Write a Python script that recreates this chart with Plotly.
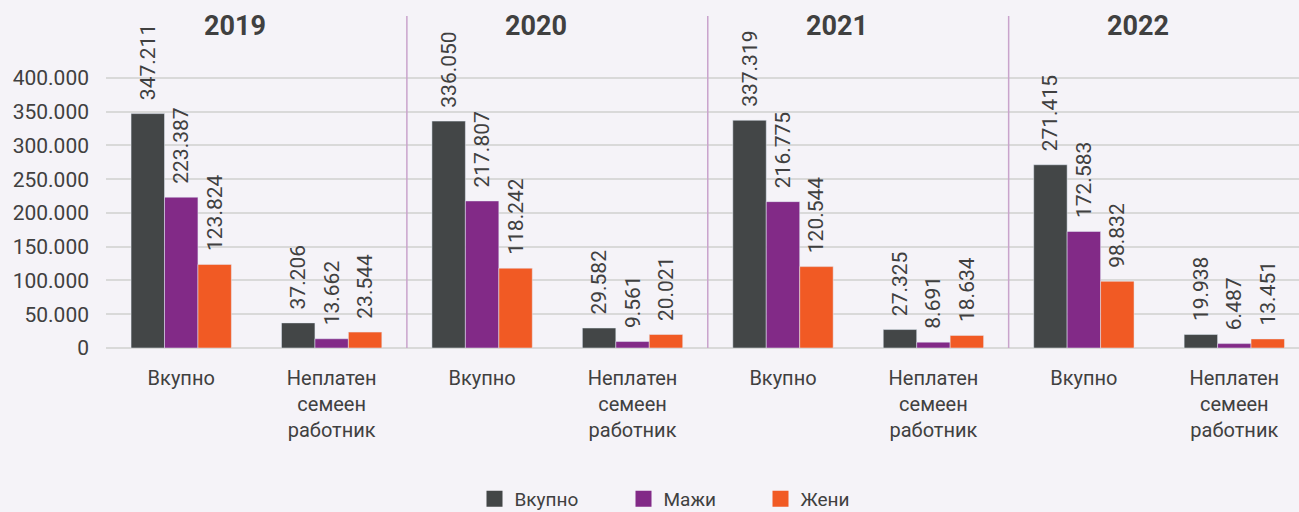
import plotly.graph_objects as go

years = ["2019", "2020", "2021", "2022"]
groups = ["Вкупно", "Неплатен<br>семеен<br>работник"]
series_names = ["Вкупно", "Мажи", "Жени"]
vkupno = [347211, 37206, 336050, 29582, 337319, 27325, 271415, 19938]
mazi = [223387, 13662, 217807, 9561, 216775, 8691, 172583, 6487]
zeni = [123824, 23544, 118242, 20021, 120544, 18634, 98832, 13451]
y_ticks = [0, 50000, 100000, 150000, 200000, 250000, 300000, 350000, 400000]

colors = ["#434647", "#822a87", "#f15a24"]
txt = "#404040"
font_family = "Roboto, 'Liberation Sans Narrow', sans-serif"
W, H = 1299, 512

tick_text = [g for y in years for g in groups]
xpos = list(range(len(tick_text)))

legend_ids = ["legend", "legend2", "legend3"]
legend_marker_cx = [494.5, 643.5, 780.5]

fig = go.Figure()
for name, vals, col, lid in zip(series_names, [vkupno, mazi, zeni], colors, legend_ids):
    fig.add_trace(go.Bar(
        x=xpos, y=vals, name=name, marker_color=col, showlegend=False,
        texttemplate="\u00a0\u00a0%{y:,}", textposition="outside", textangle=-90,
        constraintext="none", cliponaxis=False,
        textfont=dict(size=21, color=txt, family=font_family),
    ))
    fig.add_trace(go.Scatter(
        x=[None], y=[None], mode="markers", name=name, legend=lid,
        marker=dict(symbol="square", size=19, color=col),
    ))

shapes = []
for i in range(1, len(years)):
    shapes.append(dict(type="line", xref="x", yref="paper",
                       x0=i * len(groups) - 0.5, x1=i * len(groups) - 0.5,
                       y0=0, y1=1.044, line=dict(color="#c9a3cc", width=1.5)))
annotations = []
for i, y in enumerate(years):
    annotations.append(dict(x=i * len(groups) + 0.36, xref="x", y=1.0126, yref="paper",
                            text=f"<b>{y}</b>", showarrow=False, yanchor="middle",
                            font=dict(size=27, color=txt, family=font_family)))

legends = {}
for lid, cx in zip(legend_ids, legend_marker_cx):
    legends[lid] = dict(orientation="h", x=(cx - 20) / W, xref="container", xanchor="left",
                        y=1 - 499 / H, yref="container", yanchor="middle",
                        bgcolor="rgba(0,0,0,0)", borderwidth=0,
                        font=dict(size=19, color=txt, family=font_family))

fig.update_layout(
    width=W, height=H, autosize=False,
    paper_bgcolor="#f5f3f8", plot_bgcolor="#f5f3f8",
    margin=dict(l=106, r=0, t=30, b=164, pad=0, autoexpand=False),
    barmode="group", bargap=0.333, bargroupgap=0,
    separators=",.",
    font=dict(family=font_family, color=txt),
    shapes=shapes, annotations=annotations,
    xaxis=dict(tickmode="array", tickvals=xpos, ticktext=tick_text,
               range=[-0.5, 7.43], tickangle=0, automargin=False,
               ticklabelstandoff=16,
               showgrid=False, showline=False, zeroline=False,
               tickfont=dict(size=20, color=txt, family=font_family)),
    yaxis=dict(range=[0, 471000], tickvals=y_ticks, tickformat=",",
               showgrid=True, gridcolor="#d9d9d9", gridwidth=2,
               zeroline=True, zerolinecolor="#d9d9d9", zerolinewidth=2,
               ticklabelstandoff=16, automargin=False,
               tickfont=dict(size=21, color=txt, family=font_family)),
    **legends,
)

fig.write_html("out.html", config={"displayModeBar": False},
               post_script="document.body.style.margin='0';")
